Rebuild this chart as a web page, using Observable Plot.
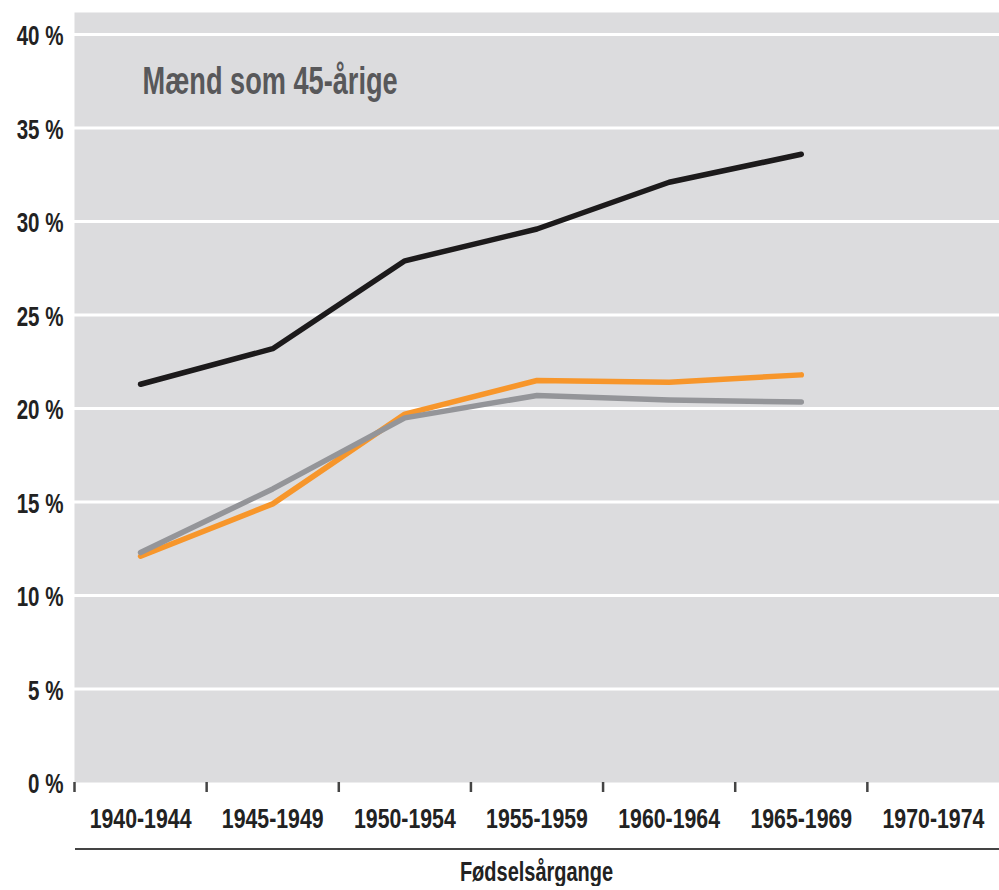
<!DOCTYPE html>
<html>
<head>
<meta charset="utf-8">
<script src="https://cdn.jsdelivr.net/npm/d3@7"></script>
<script src="https://cdn.jsdelivr.net/npm/@observablehq/plot@0.6"></script>
<style>
  body { margin: 0; background: #fff; }
  #wrap { width: 999px; }
  .xlabel {
    margin-left: 75px;
    border-top: 2px solid #444;
    text-align: center;
    font-family: "Liberation Sans", Arial, sans-serif;
    font-weight: bold;
    font-size: 27px;
    color: #222;
    padding-top: 9px;
    line-height: 27px;
    white-space: nowrap;
  }
  .xlabel span { display: inline-block; transform: scaleX(0.74); transform-origin: center; }
</style>
</head>
<body>
<div id="wrap"></div>
<script>
const cohorts = ["1940-1944", "1945-1949", "1950-1954", "1955-1959", "1960-1964", "1965-1969", "1970-1974"];
const blackSeries = [21.3, 23.2, 27.9, 29.6, 32.1, 33.6];
const orangeSeries = [12.1, 14.9, 19.7, 21.5, 21.4, 21.8];
const graySeries = [12.3, 15.7, 19.5, 20.7, 20.45, 20.35];
const yTicks = [0, 5, 10, 15, 20, 25, 30, 35, 40];
const title = "Mænd som 45-årige";
const xTitle = "Fødselsårgange";

const font = '"Liberation Sans", Arial, sans-serif';
const rows = (vals, s) => vals.map((v, i) => ({pos: i + 0.5, v, s}));
const data = [
  ...rows(orangeSeries, "orange"),
  ...rows(graySeries, "gray"),
  ...rows(blackSeries, "black")
];
const colors = {black: "#1c1a1b", orange: "#f7962b", gray: "#949599"};

const chart = Plot.plot({
  width: 999,
  height: 848,
  marginLeft: 74,
  marginRight: 0,
  marginTop: 12,
  marginBottom: 66,
  style: {fontFamily: font, fontWeight: "bold", fontSize: "27px", color: "#222", background: "#fff"},
  x: {type: "linear", domain: [0, cohorts.length], axis: null},
  y: {domain: [0, 41.18], axis: null},
  marks: [
    Plot.frame({fill: "#dcdcde", stroke: null}),
    Plot.ruleY(yTicks.filter(d => d > 0), {stroke: "#fff", strokeWidth: 3}),
    Plot.axisY({ticks: yTicks, label: null, tickSize: 0, tickPadding: 11, dy: 2, tickFormat: d => d + " %", fontSize: 27, fontWeight: "bold", fill: "#222"}),
    Plot.axisX({ticks: d3.range(cohorts.length), label: null, tickSize: 10, tickFormat: () => "", stroke: "#444", strokeWidth: 2.5}),
    Plot.axisX({ticks: cohorts.map((c, i) => i + 0.5), label: null, tickSize: 0, tickPadding: 26, tickFormat: (d) => cohorts[Math.floor(d)], fontSize: 28, fontWeight: "bold", fill: "#222"}),
    Plot.lineY(data, {x: "pos", y: "v", z: "s", stroke: d => colors[d.s], strokeWidth: 5.5, strokeLinecap: "round", strokeLinejoin: "round"}),
    Plot.text([title], {frameAnchor: "top-left", dx: 68, dy: 55, lineAnchor: "top", fontSize: 38, fontWeight: "bold", fill: "#58585a", className: "ttl"})
  ]
});
document.getElementById("wrap").appendChild(chart);
const lab = document.createElement("div");
lab.className = "xlabel";
const sp = document.createElement("span");
sp.textContent = xTitle;
lab.appendChild(sp);
document.getElementById("wrap").appendChild(lab);

// emulate a condensed typeface by narrowing every text
d3.select(chart).selectAll("text").each(function () {
  const w = this.getComputedTextLength();
  const isTitle = this.textContent === title;
  if (w > 0) {
    this.setAttribute("textLength", (w * (isTitle ? 0.715 : 0.76)).toFixed(1));
    this.setAttribute("lengthAdjust", "spacingAndGlyphs");
  }
});
</script>
</body>
</html>
